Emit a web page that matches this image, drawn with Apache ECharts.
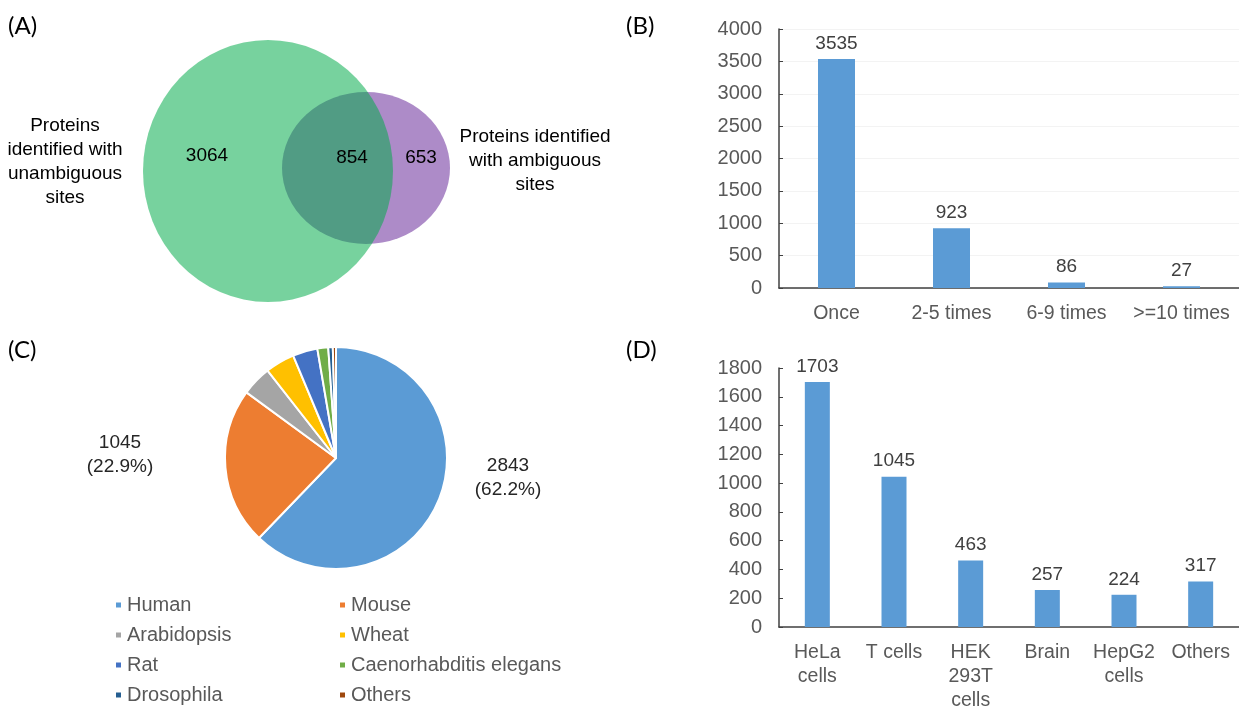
<!DOCTYPE html>
<html>
<head>
<meta charset="utf-8">
<script src="https://cdn.jsdelivr.net/npm/echarts@6/dist/echarts.min.js"></script>
<style>
  html, body { margin: 0; padding: 0; background: #ffffff; }
  #chart { width: 1239px; height: 713px; }
</style>
</head>
<body>
<div id="chart"></div>
<script>
// (A) venn counts: only-unambiguous, both, only-ambiguous
const vennCounts = [3064, 854, 653];
const vennLeftLabel = 'Proteins\nidentified with\nunambiguous\nsites';
const vennRightLabel = 'Proteins identified\nwith ambiguous\nsites';

// (B) identification frequency
const freqCategories = ['Once', '2-5 times', '6-9 times', '>=10 times'];
const freqValues = [3535, 923, 86, 27];

// (C) species
const speciesNames = ['Human', 'Mouse', 'Arabidopsis', 'Wheat', 'Rat', 'Caenorhabditis elegans', 'Drosophila', 'Others'];
const speciesValues = [2843, 1045, 200, 195, 165, 72, 30, 21];
const speciesColors = ['#5b9bd5', '#ed7d31', '#a5a5a5', '#ffc000', '#4472c4', '#70ad47', '#255e91', '#9e480e'];

// (D) sample types
const sampleCategories = ['HeLa\ncells', 'T cells', 'HEK\n293T\ncells', 'Brain', 'HepG2\ncells', 'Others'];
const sampleValues = [1703, 1045, 463, 257, 224, 317];

const FONT = '"Liberation Sans", Arial, sans-serif';
const axisGrey = '#595959';
const barBlue = '#5b9bd5';

const chart = echarts.init(document.getElementById('chart'));

function panelLabel(text, x, y) {
  return { type: 'text', left: x, top: y, style: { text: text, font: '24px Lato, sans-serif', fill: '#000' } };
}

function vennText(text, x, y) {
  return {
    type: 'text', x: x, y: y, z: 10,
    style: { text: text, font: '19px ' + FONT, fill: '#000', align: 'center', verticalAlign: 'middle', lineHeight: 24 }
  };
}

const barLabel = { show: true, position: 'top', distance: 6, color: '#404040', fontSize: 19, fontFamily: FONT };

function valueAxis(grid, max, interval, splitColor) {
  return {
    type: 'value', gridIndex: grid, min: 0, max: max, interval: interval,
    axisLine: { show: true, lineStyle: { color: '#404040', width: 1.5 } },
    axisTick: { show: true, inside: true, length: 4, lineStyle: { color: '#404040' } },
    axisLabel: {
      color: axisGrey, fontSize: 20, fontFamily: FONT, margin: 17,
      formatter: function (v) { return String(v); }
    },
    splitLine: { show: !!splitColor, lineStyle: { color: splitColor || '#fff' } }
  };
}

function catAxis(grid, data) {
  return {
    type: 'category', gridIndex: grid, data: data,
    axisLine: { show: true, lineStyle: { color: '#404040', width: 1.5 } },
    axisTick: { show: false },
    axisLabel: { color: axisGrey, fontSize: 19.5, fontFamily: FONT, margin: 14, lineHeight: 24, interval: 0 }
  };
}

function legendCol(left, names) {
  return {
    orient: 'vertical', left: left, top: 590, itemWidth: 7, itemHeight: 7, itemGap: 10,
    icon: 'rect', data: names,
    textStyle: { color: axisGrey, fontSize: 20, lineHeight: 20, fontFamily: FONT }
  };
}

const option = {
  animation: false,
  backgroundColor: '#ffffff',
  textStyle: { fontFamily: FONT },
  grid: [
    { left: 779, top: 29, width: 462, height: 259 },
    { left: 779, top: 368, width: 462, height: 269 }
  ],
  xAxis: [catAxis(0, freqCategories), catAxis(1, sampleCategories)],
  yAxis: [valueAxis(0, 4000, 500, '#f3f3f3'), valueAxis(1, 1800, 200, null)],
  legend: [
    legendCol(109, [speciesNames[0], speciesNames[2], speciesNames[4], speciesNames[6]]),
    legendCol(333, [speciesNames[1], speciesNames[3], speciesNames[5], speciesNames[7]])
  ],
  graphic: [
    panelLabel('(A)', 8, 14),
    panelLabel('(B)', 626, 14),
    panelLabel('(C)', 8, 338),
    panelLabel('(D)', 626, 338),
    // venn: purple drawn solid, translucent green on top gives the dark overlap
    {
      type: 'circle', x: 366, y: 168, scaleX: 84 / 76, shape: { cx: 0, cy: 0, r: 76 },
      style: { fill: '#ad8bc8' }
    },
    {
      type: 'circle', x: 268, y: 171, scaleY: 131 / 125, shape: { cx: 0, cy: 0, r: 125 },
      style: { fill: 'rgba(0,171,74,0.535)' }
    },
    vennText(String(vennCounts[0]), 207, 156),
    vennText(String(vennCounts[1]), 352, 158),
    vennText(String(vennCounts[2]), 421, 158),
    vennText(vennLeftLabel, 65, 162),
    vennText(vennRightLabel, 535, 161)
  ],
  series: [
    {
      type: 'bar', xAxisIndex: 0, yAxisIndex: 0, data: freqValues,
      barWidth: 37, itemStyle: { color: barBlue }, label: barLabel
    },
    {
      type: 'bar', xAxisIndex: 1, yAxisIndex: 1, data: sampleValues,
      barWidth: 25, itemStyle: { color: barBlue }, label: barLabel
    },
    {
      type: 'pie', center: [336, 458], radius: 111, startAngle: 90, clockwise: true,
      percentPrecision: 1,
      itemStyle: { borderColor: '#ffffff', borderWidth: 2 },
      label: { show: false },
      labelLine: { show: false },
      data: speciesNames.map(function (n, i) {
        return {
          name: n, value: speciesValues[i], itemStyle: { color: speciesColors[i] },
          label: {
            show: i < 2, formatter: '{c}\n({d}%)', color: '#262626', fontSize: 19,
            fontFamily: FONT, lineHeight: 24, align: 'center'
          }
        };
      }),
      labelLayout: function (p) {
        if (p.dataIndex === 0) return { x: 508, y: 478, align: 'center', verticalAlign: 'middle' };
        if (p.dataIndex === 1) return { x: 120, y: 455, align: 'center', verticalAlign: 'middle' };
        return {};
      }
    }
  ]
};

chart.setOption(option);
</script>
</body>
</html>
